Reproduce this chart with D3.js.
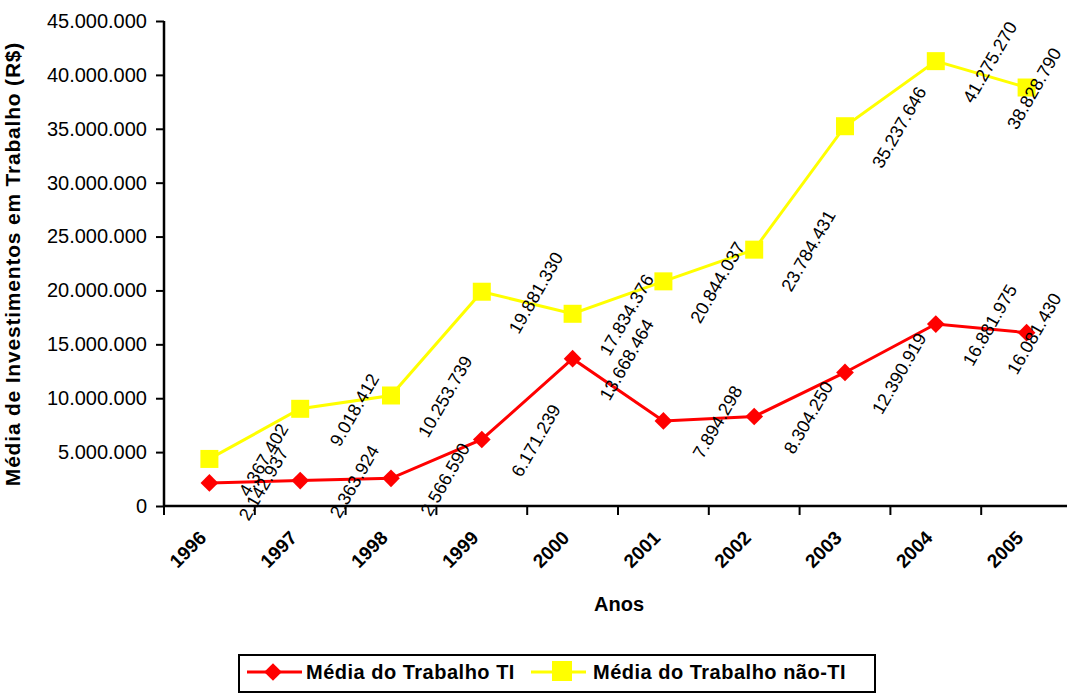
<!DOCTYPE html>
<html>
<head>
<meta charset="utf-8">
<script src="https://cdn.jsdelivr.net/npm/d3@7"></script>
<style>
  body { margin: 0; background: #fff; }
  svg { font-family: Arial, "Liberation Sans", sans-serif; }
</style>
</head>
<body>
<div id="chart"></div>
<script>
var anos = ["1996","1997","1998","1999","2000","2001","2002","2003","2004","2005"];
var mediaTI = [2142937, 2363924, 2566590, 6171239, 13668464, 7894298, 8304250, 12390919, 16881975, 16081430];
var mediaNaoTI = [4367402, 9018412, 10253739, 19881330, 17834376, 20844037, 23784431, 35237646, 41275270, 38828790];
var yTicks = [0, 5000000, 10000000, 15000000, 20000000, 25000000, 30000000, 35000000, 40000000, 45000000];

var W = 1067, H = 695;
// plot area (the right side runs past the picture edge, like the original)
var margin = {top: 21, left: 164},
    width = 908,
    height = 485;

var svg = d3.select("#chart").append("svg")
    .attr("width", W)
    .attr("height", H);

var g = svg.append("g")
    .attr("transform", "translate(" + margin.left + "," + margin.top + ")");

var x = d3.scaleBand()
    .domain(anos)
    .range([0, width]);

var y = d3.scaleLinear()
    .domain([0, 45000000])
    .range([height, 0]);

function fmt(v){
  return d3.format(",")(v).replace(/,/g, ".");
}

function cx(d, i){ return x(anos[i]) + x.bandwidth() / 2; }

// y axis
var yAxis = g.append("g")
    .call(d3.axisLeft(y).tickValues(yTicks).tickSize(8).tickPadding(9).tickFormat(fmt));
yAxis.select(".domain").attr("stroke-width", 2.5).attr("d", "M0," + height + "V0");
yAxis.selectAll(".tick line").attr("stroke-width", 2);
yAxis.selectAll("text").style("font-size", "20px").attr("fill", "#000");

// x axis, ticks on the category boundaries
var xa = g.append("g").attr("transform", "translate(0," + height + ")");
xa.append("line")
    .attr("x1", 0).attr("x2", width)
    .attr("stroke", "#000").attr("stroke-width", 2.5);
xa.selectAll(".xtick")
    .data(anos.concat(["end"]))
  .enter().append("line")
    .attr("class", "xtick")
    .attr("x1", function(d, i){ return i * x.step(); })
    .attr("x2", function(d, i){ return i * x.step(); })
    .attr("y1", 0).attr("y2", 9)
    .attr("stroke", "#000").attr("stroke-width", 2);
xa.selectAll(".xlab")
    .data(anos)
  .enter().append("text")
    .attr("class", "xlab")
    .attr("transform", function(d){
      return "translate(" + (x(d) + x.bandwidth() / 2 - 2) + ",33) rotate(-45)";
    })
    .attr("text-anchor", "end")
    .style("font-size", "19px")
    .style("font-weight", "bold")
    .text(function(d){ return d; });

// axis titles
g.append("text")
    .attr("transform", "rotate(-90)")
    .attr("x", -243)
    .attr("y", -144)
    .attr("text-anchor", "middle")
    .style("font-size", "21px")
    .style("font-weight", "bold")
    .style("letter-spacing", "0.8px")
    .text("Média de Investimentos em Trabalho (R$)");

g.append("text")
    .attr("x", 619 - margin.left)
    .attr("y", 611 - margin.top)
    .attr("text-anchor", "middle")
    .style("font-size", "20px")
    .style("font-weight", "bold")
    .text("Anos");

// lines
var line = d3.line()
    .x(function(d, i){ return cx(d, i); })
    .y(function(d){ return y(d); });

g.append("path")
    .datum(mediaNaoTI)
    .attr("fill", "none")
    .attr("stroke", "#ffff00")
    .attr("stroke-width", 3)
    .attr("d", line);

g.append("path")
    .datum(mediaTI)
    .attr("fill", "none")
    .attr("stroke", "#ff0000")
    .attr("stroke-width", 3)
    .attr("d", line);

// markers
g.selectAll(".sq")
    .data(mediaNaoTI)
  .enter().append("rect")
    .attr("class", "sq")
    .attr("x", function(d, i){ return cx(d, i) - 9; })
    .attr("y", function(d){ return y(d) - 9; })
    .attr("width", 18).attr("height", 18)
    .attr("fill", "#ffff00");

var diamond = d3.symbol().type(d3.symbolDiamond2).size(200);
g.selectAll(".dm")
    .data(mediaTI)
  .enter().append("path")
    .attr("class", "dm")
    .attr("transform", function(d, i){ return "translate(" + cx(d, i) + "," + y(d) + ")"; })
    .attr("d", diamond)
    .attr("fill", "#ff0000");

// data labels, rotated, to the right of each point (kept inside the picture)
function addLabels(data, cls){
  g.selectAll("." + cls)
      .data(data)
    .enter().append("text")
      .attr("class", cls)
      .attr("transform", function(d, i){
        var lx = Math.min(cx(d, i) + 54, W - margin.left - 33);
        return "translate(" + lx + "," + (y(d) + 1) + ") rotate(-60)";
      })
      .attr("text-anchor", "middle")
      .attr("dy", "0.35em")
      .style("font-size", "18px")
      .text(function(d){ return fmt(d); });
}
addLabels(mediaNaoTI, "lblB");
addLabels(mediaTI, "lblA");

// legend
var lg = svg.append("g").attr("transform", "translate(239,655)");
lg.append("rect")
    .attr("width", 636).attr("height", 37)
    .attr("fill", "#fff").attr("stroke", "#000").attr("stroke-width", 2);
lg.append("line").attr("x1", 8).attr("x2", 63).attr("y1", 17).attr("y2", 17)
    .attr("stroke", "#ff0000").attr("stroke-width", 3);
lg.append("path").attr("transform", "translate(34,17)").attr("d", diamond).attr("fill", "#ff0000");
lg.append("text").attr("x", 67).attr("y", 24)
    .style("font-size", "20px").style("font-weight", "bold").style("letter-spacing", "0.5px")
    .text("Média do Trabalho TI");
lg.append("line").attr("x1", 292).attr("x2", 347).attr("y1", 17).attr("y2", 17)
    .attr("stroke", "#ffff00").attr("stroke-width", 3);
lg.append("rect").attr("x", 313).attr("y", 6).attr("width", 20).attr("height", 20).attr("fill", "#ffff00");
lg.append("text").attr("x", 354).attr("y", 24)
    .style("font-size", "20px").style("font-weight", "bold").style("letter-spacing", "0.5px")
    .text("Média do Trabalho não-TI");
</script>
</body>
</html>
